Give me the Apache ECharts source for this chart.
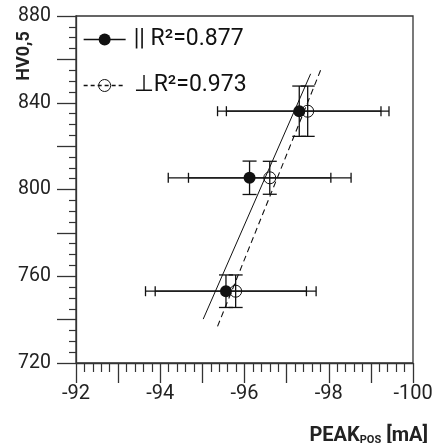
<!DOCTYPE html>
<html>
<head>
<meta charset="utf-8">
<script src="https://cdn.jsdelivr.net/npm/echarts@6/dist/echarts.min.js"></script>
<style>
html,body{margin:0;padding:0;background:#fff;}
#chart{width:436px;height:443px;}
</style>
</head>
<body>
<div id="chart"></div>
<script>
// ---- data ----
const parallelX = [-97.30, -96.12, -95.56];
const parallelY = [836.1, 805.4, 753.1];
const parallelXErr = [1.94, 1.93, 1.91];
const parallelYErr = [11.6, 7.7, 7.5];

const perpX = [-97.50, -96.60, -95.79];
const perpY = [836.1, 805.4, 753.1];
const perpXErr = [1.93, 1.93, 1.91];
const perpYErr = [11.6, 7.6, 7.5];

// x-extent over which each fitted line is drawn
const parallelFitRange = [-95.02, -97.57];
const perpFitRange = [-95.36, -97.81];

const legendNames = ['|| R\u00b2=0.877', '\u22a5R\u00b2=0.973'];
const xTickLabels = [-92, -94, -96, -98, -100];
const yTickLabels = [720, 760, 800, 840, 880];
const xAxisTitle = ['PEAK', 'POS', ' [mA]'];
const yAxisTitle = 'HV0,5';

// ---- helpers ----
function linFit(xs, ys) {
  const n = xs.length;
  const mx = xs.reduce((a, b) => a + b, 0) / n;
  const my = ys.reduce((a, b) => a + b, 0) / n;
  let sxy = 0, sxx = 0;
  for (let i = 0; i < n; i++) { sxy += (xs[i] - mx) * (ys[i] - my); sxx += (xs[i] - mx) ** 2; }
  const b = sxy / sxx;
  return x => my + b * (x - mx);
}
const fPar = linFit(parallelX, parallelY);
const fPerp = linFit(perpX, perpY);
const parFitData = parallelFitRange.map(x => [x, fPar(x)]);
const perpFitData = perpFitRange.map(x => [x, fPerp(x)]);

const parPts = parallelX.map((x, i) => [x, parallelY[i], parallelXErr[i], parallelYErr[i]]);
const perpPts = perpX.map((x, i) => [x, perpY[i], perpXErr[i], perpYErr[i]]);

const INK = '#111';
function errRender(params, api) {
  const x = api.value(0), y = api.value(1), ex = api.value(2), ey = api.value(3);
  const c = api.coord([x, y]);
  const l = api.coord([x - ex, y]), r = api.coord([x + ex, y]);
  const t = api.coord([x, y + ey]), b = api.coord([x, y - ey]);
  const hc = 5, vc = 7;
  const st = { stroke: INK, lineWidth: 1.3, fill: null };
  const ln = (x1, y1, x2, y2) => ({ type: 'line', shape: { x1, y1, x2, y2 }, style: st });
  return {
    type: 'group',
    children: [
      ln(l[0], c[1], r[0], c[1]),
      ln(l[0], c[1] - hc, l[0], c[1] + hc),
      ln(r[0], c[1] - hc, r[0], c[1] + hc),
      ln(c[0], t[1], c[0], b[1]),
      ln(c[0] - vc, t[1], c[0] + vc, t[1]),
      ln(c[0] - vc, b[1], c[0] + vc, b[1])
    ]
  };
}

const FONT = 'Roboto, "Liberation Sans", sans-serif';
const chart = echarts.init(document.getElementById('chart'), null, { renderer: 'canvas' });
chart.setOption({
  animation: false,
  backgroundColor: '#fff',
  grid: { left: 76, right: 23, top: 16, bottom: 80, show: true, borderColor: '#333', borderWidth: 1.3, backgroundColor: 'transparent' },
  legend: {
    left: 83, top: 28, orient: 'vertical',
    itemWidth: 42, itemHeight: 15, itemGap: 23, padding: 0,
    textStyle: { fontFamily: FONT, fontSize: 23, color: INK, padding: [0, 0, 0, 3] },
    data: [
      { name: legendNames[0], itemStyle: { color: INK, borderWidth: 0 }, lineStyle: { color: INK, width: 1.3, type: 'solid' } },
      { name: legendNames[1], itemStyle: { color: 'transparent', borderColor: INK, borderWidth: 1 }, lineStyle: { color: INK, width: 1.3, type: [4, 3] } }
    ]
  },
  xAxis: {
    type: 'value', inverse: true, min: -100, max: -92, interval: 1,
    axisLine: { lineStyle: { color: '#333', width: 1.3 } },
    axisTick: { length: 20, lineStyle: { color: '#333', width: 1.3 } },
    minorTick: { show: true, splitNumber: 5, length: 9, lineStyle: { color: '#333', width: 1.2 } },
    splitLine: { show: false },
    axisLabel: {
      margin: 21, fontFamily: FONT, fontSize: 20, color: '#222',
      formatter: v => xTickLabels.includes(v) ? String(v) : ''
    }
  },
  yAxis: {
    type: 'value', min: 720, max: 880, interval: 20,
    axisLine: { lineStyle: { color: '#333', width: 1.3 } },
    axisTick: { length: 19, lineStyle: { color: '#333', width: 1.3 } },
    minorTick: { show: true, splitNumber: 4, length: 7, lineStyle: { color: '#333', width: 1.2 } },
    splitLine: { show: false },
    axisLabel: {
      margin: 25, fontFamily: FONT, fontSize: 19.5, color: '#222',
      formatter: v => yTickLabels.includes(v) ? String(v) : ''
    }
  },
  graphic: [
    {
      type: 'text', x: 428, y: 434, z: 10,
      style: {
        text: '{b|' + xAxisTitle[0] + '}{s|' + xAxisTitle[1] + '}{b|' + xAxisTitle[2] + '}',
        align: 'right', verticalAlign: 'middle',
        rich: {
          b: { fontFamily: FONT, fontWeight: 'bold', fontSize: 20, fill: '#222', lineHeight: 24, verticalAlign: 'bottom' },
          s: { fontFamily: FONT, fontWeight: 'bold', fontSize: 11, fill: '#222', lineHeight: 21, verticalAlign: 'bottom' }
        }
      }
    },
    {
      type: 'text', x: 24, y: 56, rotation: Math.PI / 2, z: 10,
      style: {
        text: '{b|' + yAxisTitle + '}',
        align: 'center', verticalAlign: 'middle',
        rich: {
          b: { fontFamily: FONT, fontWeight: 'bold', fontSize: 18, fill: '#222', lineHeight: 20 }
        }
      }
    }
  ],
  series: [
    {
      name: legendNames[0], type: 'line', data: parFitData, symbol: 'none',
      lineStyle: { color: INK, width: 1, type: 'solid' }, itemStyle: { color: INK }, z: 2
    },
    {
      name: legendNames[1], type: 'line', data: perpFitData, symbol: 'none',
      lineStyle: { color: INK, width: 1.1, type: [6, 4] }, itemStyle: { color: INK }, z: 2
    },
    { type: 'custom', renderItem: errRender, data: parPts, encode: { x: 0, y: 1 }, z: 3 },
    { type: 'custom', renderItem: errRender, data: perpPts, encode: { x: 0, y: 1 }, z: 3 },
    {
      type: 'scatter', data: parPts.map(p => [p[0], p[1]]), symbol: 'circle', symbolSize: 12,
      itemStyle: { color: INK, opacity: 1 }, z: 4
    },
    {
      type: 'scatter', data: perpPts.map(p => [p[0], p[1]]), symbol: 'circle', symbolSize: 12,
      itemStyle: { color: 'transparent', borderColor: INK, borderWidth: 1, opacity: 1 }, z: 4
    }
  ]
});
</script>
</body>
</html>
